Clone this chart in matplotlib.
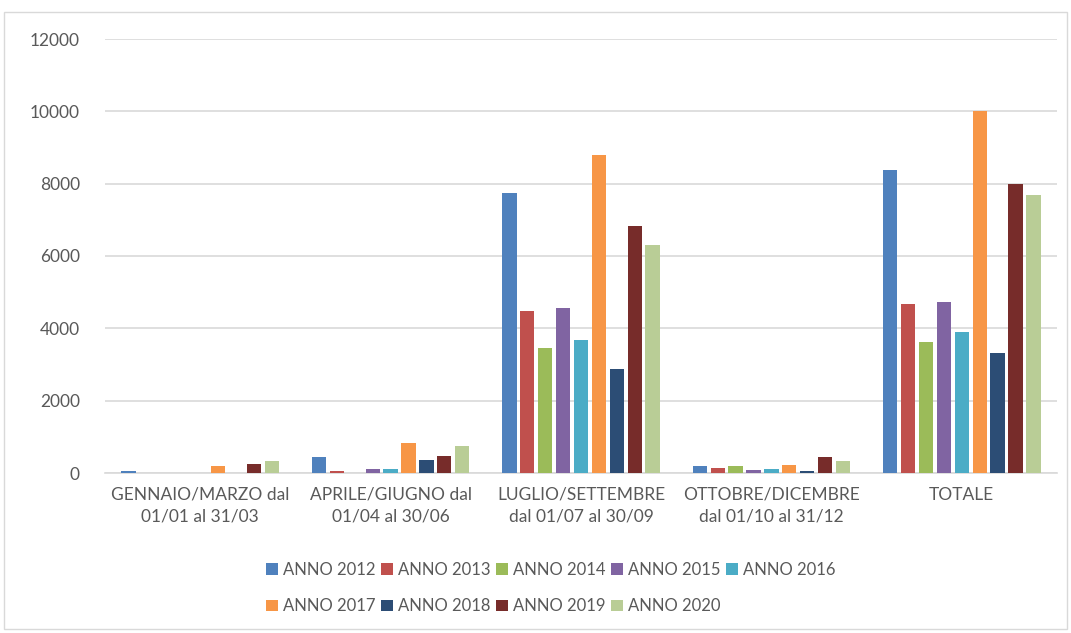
import numpy as np
import matplotlib.pyplot as plt
from matplotlib.patches import Rectangle

# -----------------------------
# Data
# -----------------------------
categories = [
    "GENNAIO/MARZO dal\n01/01 al 31/03",
    "APRILE/GIUGNO dal\n01/04 al 30/06",
    "LUGLIO/SETTEMBRE\ndal 01/07 al 30/09",
    "OTTOBRE/DICEMBRE\ndal 01/10 al 31/12",
    "TOTALE",
]
series_names = ["ANNO 2012", "ANNO 2013", "ANNO 2014", "ANNO 2015", "ANNO 2016",
                "ANNO 2017", "ANNO 2018", "ANNO 2019", "ANNO 2020"]

anno_2012 = [50, 450, 7740, 200, 8380]
anno_2013 = [0, 60, 4480, 130, 4670]
anno_2014 = [0, 0, 3460, 200, 3620]
anno_2015 = [0, 120, 4560, 70, 4730]
anno_2016 = [0, 120, 3680, 100, 3900]
anno_2017 = [200, 820, 8790, 230, 10010]
anno_2018 = [0, 360, 2870, 60, 3320]
anno_2019 = [250, 470, 6830, 450, 7990]
anno_2020 = [340, 750, 6300, 320, 7690]

values = [anno_2012, anno_2013, anno_2014, anno_2015, anno_2016,
          anno_2017, anno_2018, anno_2019, anno_2020]

colors = ["#4F81BD", "#C0504D", "#9BBB59", "#8064A2", "#4BACC6",
          "#F79646", "#2C4D75", "#772C2A", "#B9CD96"]

y_ticks = [0, 2000, 4000, 6000, 8000, 10000, 12000]

# -----------------------------
# Figure
# -----------------------------
plt.rcParams['font.family'] = ['Lato', 'DejaVu Sans']
text_color = "#595959"

fig = plt.figure(figsize=(10.71, 6.33), dpi=100)
ax = fig.add_axes([105 / 1071, 1 - 473 / 633, 952 / 1071, 434 / 633])

x = np.arange(len(categories))
pitch = 0.094
width = 0.075
n = len(values)
bars = []
for i, (name, vals, col) in enumerate(zip(series_names, values, colors)):
    offset = (i - (n - 1) / 2) * pitch
    bars.append(ax.bar(x + offset, vals, width, color=col, label=name, zorder=3))

ax.set_xlim(-0.5, len(categories) - 0.5)
ax.set_ylim(0, 12000)
ax.set_yticks(y_ticks)
ax.set_yticklabels([str(t) for t in y_ticks])
ax.set_xticks(x)
ax.set_xticklabels(categories, linespacing=1.45)

ax.grid(axis='y', color="#D9D9D9", linewidth=1.2, zorder=0)
for s in ["top", "right", "left"]:
    ax.spines[s].set_visible(False)
ax.spines["bottom"].set_color("#D9D9D9")
ax.spines["bottom"].set_linewidth(1.2)
ax.tick_params(axis='both', length=0, colors=text_color, labelsize=12.5)
ax.tick_params(axis='y', pad=18)
ax.tick_params(axis='x', pad=10)

# legend is filled column by column, so reorder to get 5 + 4 in rows
order = [0, 5, 1, 6, 2, 7, 3, 8, 4]
fig.legend([bars[k] for k in order], [series_names[k] for k in order],
           loc='center', bbox_to_anchor=(551 / 1071, 1 - 588 / 633),
           ncol=5, frameon=False, fontsize=12, labelcolor=text_color,
           handlelength=0.7, handleheight=0.7, handletextpad=0.3,
           columnspacing=0.35, labelspacing=1.25)

# light frame around the chart
fig.patches.append(Rectangle((4 / 1071, 4 / 633), 1 - 8 / 1071, 1 - 16 / 633,
                             transform=fig.transFigure, fill=False,
                             edgecolor="#D9D9D9", linewidth=1.0))

fig.savefig("out.png", dpi=100)
